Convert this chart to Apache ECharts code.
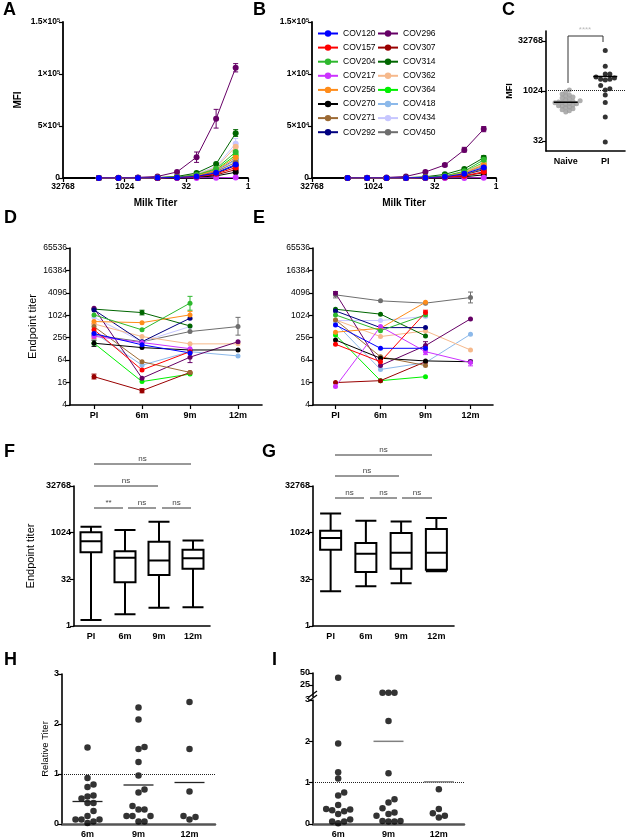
<!DOCTYPE html>
<html>
<head>
<meta charset="utf-8">
<title>Milk antibody titers</title>
<script src="https://cdn.jsdelivr.net/npm/echarts@6.0.0/dist/echarts.min.js"></script>
<style>
  html, body { margin: 0; padding: 0; background: #fff; }
  #chart { width: 629px; height: 840px; }
</style>
</head>
<body>
<div id="chart"></div>
<script>
var FONT = 'Arial, "Liberation Sans", Helvetica, sans-serif';

// ---------------- data ----------------
var patients = ['COV120', 'COV157', 'COV204', 'COV217', 'COV256', 'COV270', 'COV271', 'COV292',
                'COV296', 'COV307', 'COV314', 'COV362', 'COV364', 'COV418', 'COV434', 'COV450'];
var colors = ['#0000ff', '#ff0000', '#2eb82e', '#cc33ff', '#ff8c1a', '#000000', '#9c6a34', '#000080',
              '#660066', '#990000', '#006600', '#f6b98c', '#00f000', '#8cb9ea', '#c6c6ff', '#6e6e6e'];

// A / B : MFI against milk dilution
var milkTiters = [4374, 1458, 486, 162, 54, 18, 6, 2];
var titerTicks = [32768, 1024, 32, 1];
var mfiA = [
    [0, 0, 50, 150, 500, 1500, 5000, 13000],        // COV120
    [0, 0, 50, 100, 400, 1200, 4000, 10000],        // COV157
    [0, 0, 80, 250, 900, 3000, 9000, 25000],        // COV204
    [0, 0, 0, 20, 50, 100, 200, 500],               // COV217
    [0, 0, 80, 200, 800, 2500, 7500, 20000],        // COV256
    [0, 0, 20, 50, 200, 700, 2000, 5500],           // COV270
    [0, 0, 50, 150, 600, 2000, 6000, 15000],        // COV271
    [0, 0, 40, 120, 450, 1500, 4500, 12000],        // COV292
    [100, 300, 600, 1500, 5800, 20000, 57000, 106000], // COV296
    [0, 0, 30, 100, 300, 1000, 3000, 8000],         // COV307
    [0, 50, 150, 400, 1500, 4800, 13500, 43000],    // COV314
    [0, 30, 100, 300, 1100, 3500, 10000, 30000],    // COV362
    [0, 0, 80, 250, 800, 2800, 8000, 22000],        // COV364
    [0, 0, 60, 180, 650, 2200, 6500, 17000],        // COV418
    [0, 30, 120, 350, 1200, 4000, 11000, 33000],    // COV434
    [0, 0, 60, 200, 700, 2300, 6800, 18000]         // COV450
];
var mfiB = [
    [0, 0, 30, 100, 350, 1200, 4000, 10000],
    [0, 0, 20, 60, 200, 700, 2200, 6000],
    [0, 0, 40, 150, 600, 2000, 6500, 17500],
    [0, 0, 0, 10, 30, 60, 120, 300],
    [0, 0, 30, 120, 450, 1500, 5000, 12500],
    [0, 0, 10, 40, 120, 400, 1200, 3000],
    [0, 0, 30, 100, 350, 1100, 3500, 9000],
    [0, 0, 25, 90, 300, 1000, 3200, 8000],
    [50, 200, 500, 1500, 5800, 12500, 27000, 47000],
    [0, 0, 20, 60, 200, 600, 2000, 5000],
    [0, 20, 80, 300, 1200, 3500, 8700, 19500],
    [0, 10, 50, 180, 600, 1900, 6000, 14000],
    [0, 0, 40, 150, 550, 1800, 5800, 15000],
    [0, 0, 30, 110, 400, 1300, 4300, 11000],
    [0, 10, 40, 140, 500, 1600, 5200, 13000],
    [0, 0, 30, 120, 420, 1400, 4500, 11500]
];
// error bars: [patient, x, low, high]
var errA = [[8, 2, 102000, 110000], [8, 6, 48000, 66000], [8, 18, 15000, 25000],
            [10, 2, 40000, 46500], [14, 2, 30000, 38000], [11, 2, 27000, 33000]];
var errB = [[8, 2, 44500, 49500], [8, 6, 25000, 29500], [8, 18, 11000, 14000], [10, 2, 18000, 21500]];

// C : MFI, naive vs PI
var groupsC = ['Naive', 'PI'];
var naiveMFI = [1100, 950, 830, 780, 720, 680, 630, 590, 550, 520, 500, 480, 470,
                450, 440, 420, 410, 390, 370, 360, 340, 320, 300, 280, 260, 240];
var piMFI = [17000, 5700, 3300, 3300, 2700, 2500, 2300, 2300, 2200, 1500, 1200, 1100, 780, 460, 170, 30];
var medianC = [470, 2800];
var cutoffC = 1100;
var ticksC = [32, 1024, 32768];

// D / E : endpoint titer over time
var timepoints = ['PI', '6m', '9m', '12m'];
var ticksDE = [4, 16, 64, 256, 1024, 4096, 16384, 65536];
var titerD = [
    [330, 165, 100, null], [420, 35, 108, null], [1050, 416, 2170, null], [280, 190, 130, null],
    [695, 650, 1050, null], [182, 139, 120, 120], [510, 58, 30, null], [1430, 200, 855, null],
    [1585, 21, 77, 200], [23, 9.7, 30, null], [1500, 1210, 530, null], [600, 275, 175, 175],
    [182, 17, 27, null], [350, 47, 108, 83], [900, 200, 510, null], [300, 200, 375, 510]
];
var titerE = [
    [565, 133, 133, null], [171, 58, 1210, null], [1050, 396, 1050, null], [12.5, 510, 108, 55],
    [360, 460, 2300, null], [223, 72, 61, 58], [770, 79, 46, null], [1340, 478, 478, null],
    [4000, 46, 157, 820], [16, 18, 58, null], [1490, 1100, 286, null], [770, 275, 390, 120],
    [305, 18, 23, null], [625, 36, 55, 317], [740, 740, 950, null], [3620, 2500, 2170, 3060]
];
var errD = [[15, 3, 300, 900], [2, 2, 1400, 3300], [4, 2, 800, 1300], [10, 1, 1050, 1400],
            [1, 0, 250, 600], [5, 0, 150, 220], [9, 0, 20, 27], [9, 1, 8.5, 11], [8, 2, 55, 100]];
var errE = [[15, 3, 2200, 4300], [15, 0, 3000, 4400], [8, 2, 120, 200], [3, 2, 90, 135],
            [2, 2, 900, 1250], [1, 2, 1000, 1400], [3, 3, 45, 65], [8, 0, 3600, 4400]];

// F / G : box plots [min, Q1, median, Q3, max]
var ticksFG = [1, 32, 1024, 32768];
var boxF = [[1.56, 240, 540, 1050, 1600], [2.4, 26, 158, 258, 1250],
            [3.9, 44, 130, 525, 2300], [4, 70, 154, 286, 568]];
var boxG = [[13.2, 286, 690, 1190, 4260], [19, 55, 213, 478, 2480],
            [24, 70, 229, 1000, 2350], [58, 65, 229, 1340, 3020]];

// H / I : relative titer
var monthsHI = ['6m', '9m', '12m'];
var relH = [
    [1.53, 0.92, 0.74, 0.79, 0.57, 0.55, 0.51, 0.42, 0.42, 0.26, 0.09, 0.09, 0.09, 0.05, 0.16, 0.02],
    [2.33, 2.09, 1.54, 1.5, 1.24, 0.97, 0.69, 0.63, 0.36, 0.29, 0.29, 0.16, 0.16, 0.16, 0.05, 0.05],
    [2.44, 1.5, 0.65, 0.16, 0.09, 0.14]
];
var meanH = [0.45, 0.78, 0.83];
var relI = [
    [40, 1.95, 1.25, 1.1, 0.76, 0.69, 0.46, 0.36, 0.24, 0.31, 0.33, 0.35, 0.06, 0.06, 0.11, 0.02],
    [9.0, 8.8, 8.8, 2.49, 1.23, 0.6, 0.52, 0.38, 0.2, 0.24, 0.28, 0.06, 0.07, 0.06, 0.07],
    [0.16, 0.84, 0.26, 0.36, 0.2]
];
var meanI = [null, 2.0, 1.02];
var breakI = 3;   // values above this go to the upper segment

// ---------------- helpers ----------------
function axLine(color, width) {
    return {show: true, onZero: false, lineStyle: {color: color || '#000', width: width || 1.6}};
}
function axTick(custom, show) {
    var t = {show: show !== false, length: 4, alignWithLabel: true, lineStyle: {color: '#000', width: 1.2}};
    if (custom) t.customValues = custom;
    return t;
}
function axLabel(extra) {
    var l = {color: '#000', fontFamily: FONT, fontSize: 9, fontWeight: 'bold', margin: 3};
    for (var k in extra) l[k] = extra[k];
    return l;
}
function fmtInt(v) { return String(Math.round(v)); }
function mfiLabel(v) {
    if (v === 0) return '0';
    var p = Math.round(Math.log10(v) - 0.49);
    return (v / Math.pow(10, p)) + '×10{s|' + p + '}';
}
function nameStyle(size, weight) {
    return {color: '#000', fontFamily: FONT, fontSize: size, fontWeight: weight || 'bold'};
}
function logY(gi, min, max, ticks) {
    return {gridIndex: gi, type: 'log', logBase: 2, min: min, max: max,
        axisLine: axLine(), axisTick: axTick(ticks), splitLine: {show: false},
        axisLabel: axLabel({customValues: ticks, formatter: fmtInt})};
}
function catX(gi, cats, ticks, lineColor, lineWidth) {
    return {gridIndex: gi, type: 'category', data: cats, boundaryGap: true,
        axisLine: axLine(lineColor, lineWidth), axisTick: axTick(null, ticks), splitLine: {show: false},
        axisLabel: axLabel({margin: 6, interval: 0})};
}
// simple beeswarm: horizontal pixel offsets so dots do not overlap
function swarm(values, toPx, step) {
    var order = values.map(function (v, i) { return i; })
        .sort(function (a, b) { return values[a] - values[b]; });
    var placed = [], off = [];
    order.forEach(function (i) {
        var y = toPx(values[i]);
        for (var k = 0; k < 80; k++) {
            var dx = k === 0 ? 0 : (k % 2 ? 1 : -1) * Math.ceil(k / 2) * step;
            var free = placed.every(function (p) {
                var ax = p[0] - dx, ay = p[1] - y;
                return ax * ax + ay * ay >= step * step * 0.96;
            });
            if (free) { placed.push([dx, y]); off[i] = dx; break; }
        }
    });
    return off;
}
function swarmItems(ci, values, toPx, step) {
    var off = swarm(values, toPx, step);
    return values.map(function (v, i) { return {value: [ci, v], symbolOffset: [off[i], 0]}; });
}
function errorBars(ai, list) {
    return {
        type: 'custom', xAxisIndex: ai, yAxisIndex: ai, silent: true, z: 3,
        data: list.map(function (d) { return [d[1], d[2], d[3], d[0]]; }),
        renderItem: function (params, api) {
            var lo = api.coord([api.value(0), api.value(1)]);
            var hi = api.coord([api.value(0), api.value(2)]);
            var st = {stroke: colors[api.value(3)], lineWidth: 1};
            return {type: 'group', children: [
                {type: 'line', shape: {x1: lo[0], y1: lo[1], x2: hi[0], y2: hi[1]}, style: st},
                {type: 'line', shape: {x1: lo[0] - 2.5, y1: lo[1], x2: lo[0] + 2.5, y2: lo[1]}, style: st},
                {type: 'line', shape: {x1: hi[0] - 2.5, y1: hi[1], x2: hi[0] + 2.5, y2: hi[1]}, style: st}
            ]};
        }
    };
}
function levelLines(ai, vals, halfW, color, width) {
    var data = [];
    vals.forEach(function (v, i) { if (v != null) data.push([i, v]); });
    return {
        type: 'custom', xAxisIndex: ai, yAxisIndex: ai, silent: true, z: 6, data: data,
        renderItem: function (params, api) {
            var p = api.coord([api.value(0), api.value(1)]);
            return {type: 'line', shape: {x1: p[0] - halfW, y1: p[1], x2: p[0] + halfW, y2: p[1]},
                style: {stroke: color, lineWidth: width}};
        }
    };
}
function dotted(value) {
    return {silent: true, symbol: 'none', label: {show: false},
        lineStyle: {type: 'dotted', color: '#222', width: 1}, data: [{yAxis: value}]};
}

// ---------------- layout ----------------
var grids = [
    {left: 63, top: 22, width: 185, height: 156},    // A
    {left: 312, top: 22, width: 184, height: 156},   // B
    {left: 546, top: 31, width: 79, height: 120},    // C
    {left: 70, top: 248, width: 192, height: 157},   // D
    {left: 313, top: 248, width: 180, height: 157},  // E
    {left: 74, top: 486, width: 136, height: 140},   // F
    {left: 313, top: 486, width: 141, height: 140},  // G
    {left: 62, top: 674, width: 153, height: 150},   // H
    {left: 313, top: 700, width: 151, height: 124},  // I lower
    {left: 313, top: 673, width: 151, height: 24}    // I upper
];

var xAxes = [];
var yAxes = [];
[0, 1].forEach(function (gi) {
    xAxes.push({gridIndex: gi, type: 'log', logBase: 2, min: 0.9999, max: 32770, inverse: true,
        axisLine: axLine(null, 1.8), axisTick: axTick(titerTicks), splitLine: {show: false},
        axisLabel: axLabel({customValues: titerTicks, formatter: fmtInt, fontSize: 8.5, margin: 4}),
        name: 'Milk Titer', nameLocation: 'middle', nameGap: 20, nameTextStyle: nameStyle(10)});
    yAxes.push({gridIndex: gi, type: 'value', min: 0, max: 150000, interval: 50000,
        axisLine: axLine(null, 1.8), axisTick: axTick(), splitLine: {show: false},
        axisLabel: axLabel({fontSize: 8.5, formatter: mfiLabel,
            rich: {s: {fontSize: 5.5, fontWeight: 'bold', verticalAlign: 'top', lineHeight: 6}}}),
        name: gi === 0 ? 'MFI' : '', nameLocation: 'middle', nameGap: 40, nameTextStyle: nameStyle(10)});
});
xAxes.push(catX(2, groupsC, false));
var yC = logY(2, 16, 65536, ticksC);
yC.name = 'MFI'; yC.nameLocation = 'middle'; yC.nameGap = 31; yC.nameTextStyle = nameStyle(9);
yAxes.push(yC);
[3, 4].forEach(function (gi) {
    xAxes.push(catX(gi, timepoints, true));
    var y = logY(gi, 3.9996, 65540, ticksDE);
    y.axisLabel.fontWeight = 'normal';
    y.axisLabel.fontSize = 8.5;
    if (gi === 3) {
        y.name = 'Endpoint titer'; y.nameLocation = 'middle'; y.nameGap = 32;
        y.nameTextStyle = nameStyle(11, 'normal');
    }
    yAxes.push(y);
});
[5, 6].forEach(function (gi) {
    xAxes.push(catX(gi, timepoints, false));
    var y = logY(gi, 0.9999, 32770, ticksFG);
    if (gi === 5) {
        y.name = 'Endpoint titer'; y.nameLocation = 'middle'; y.nameGap = 38;
        y.nameTextStyle = nameStyle(11, 'normal');
    }
    yAxes.push(y);
});
xAxes.push(catX(7, monthsHI, false, '#555', 2.5));
yAxes.push({gridIndex: 7, type: 'value', min: 0, max: 3, interval: 1,
    axisLine: axLine(), axisTick: axTick(), splitLine: {show: false}, axisLabel: axLabel({}),
    name: 'Relative Titer', nameLocation: 'middle', nameGap: 12, nameTextStyle: nameStyle(9.5, 'normal')});
xAxes.push(catX(8, monthsHI, false, '#555', 2.5));
yAxes.push({gridIndex: 8, type: 'value', min: 0, max: 3, interval: 1,
    axisLine: axLine(), axisTick: axTick(), splitLine: {show: false}, axisLabel: axLabel({})});
xAxes.push({gridIndex: 9, type: 'category', data: monthsHI, show: false});
yAxes.push({gridIndex: 9, type: 'value', min: 0, max: 50,
    axisLine: axLine(), axisTick: axTick([25, 50]), splitLine: {show: false},
    axisLabel: axLabel({customValues: [25, 50]})});

// ---------------- series ----------------
var series = [];
[[0, mfiA], [1, mfiB]].forEach(function (pair) {
    for (var i = patients.length - 1; i >= 0; i--) {
        series.push({
            name: patients[i], type: 'line', xAxisIndex: pair[0], yAxisIndex: pair[0],
            data: milkTiters.map(function (t, k) { return [t, pair[1][i][k]]; }),
            symbol: 'circle', symbolSize: 6, lineStyle: {width: 1, color: colors[i]},
            itemStyle: {color: colors[i]}, z: 4
        });
    }
});
series.push(errorBars(0, errA), errorBars(1, errB));

series.push({type: 'scatter', xAxisIndex: 2, yAxisIndex: 2, symbolSize: 5,
    itemStyle: {color: '#9a9a9a'}, markLine: dotted(cutoffC),
    data: swarmItems(0, naiveMFI, function (v) { return -Math.log2(v) * 10; }, 3.6)});
series.push({type: 'scatter', xAxisIndex: 2, yAxisIndex: 2, symbolSize: 5,
    itemStyle: {color: '#000'},
    data: swarmItems(1, piMFI, function (v) { return -Math.log2(v) * 10; }, 4.6)});
series.push(levelLines(2, medianC, 12, '#000', 1.5));

[[3, titerD, errD], [4, titerE, errE]].forEach(function (set) {
    for (var i = patients.length - 1; i >= 0; i--) {
        series.push({
            name: patients[i], type: 'line', xAxisIndex: set[0], yAxisIndex: set[0],
            data: set[1][i], symbol: 'circle', symbolSize: 5, showAllSymbol: true,
            lineStyle: {width: 1, color: colors[i]}, itemStyle: {color: colors[i]}, z: 4
        });
    }
    series.push(errorBars(set[0], set[2]));
});

[[5, boxF], [6, boxG]].forEach(function (set) {
    series.push({type: 'boxplot', xAxisIndex: set[0], yAxisIndex: set[0], data: set[1],
        boxWidth: [21, 21], silent: true,
        itemStyle: {color: '#fff', borderColor: '#000', borderWidth: 2}});
});

var hItems = [];
relH.forEach(function (vals, ci) {
    hItems = hItems.concat(swarmItems(ci, vals, function (v) { return -v * 50; }, 6));
});
series.push({type: 'scatter', xAxisIndex: 7, yAxisIndex: 7, symbolSize: 6.5,
    itemStyle: {color: '#000'}, markLine: dotted(1), data: hItems, z: 4});
series.push(levelLines(7, meanH, 15, '#222', 1.3));

var iLow = [], iHigh = [];
relI.forEach(function (vals, ci) {
    var lo = vals.filter(function (v) { return v <= breakI; });
    var hi = vals.filter(function (v) { return v > breakI; });
    iLow = iLow.concat(swarmItems(ci, lo, function (v) { return -v * 41.3; }, 6));
    iHigh = iHigh.concat(swarmItems(ci, hi, function (v) { return -v * 0.48; }, 6));
});
series.push({type: 'scatter', xAxisIndex: 8, yAxisIndex: 8, symbolSize: 6.5,
    itemStyle: {color: '#000'}, markLine: dotted(1), data: iLow, z: 4});
series.push({type: 'scatter', xAxisIndex: 9, yAxisIndex: 9, symbolSize: 6.5,
    itemStyle: {color: '#000'}, data: iHigh, z: 4});
series.push(levelLines(8, meanI, 15, '#808080', 1.5));

// ---------------- annotations ----------------
var graphics = [];
[['A', 3, 1.5], ['B', 253, 1.5], ['C', 502, 1.5], ['D', 4, 209.5], ['E', 253, 209.5],
 ['F', 4, 443.5], ['G', 262, 443.5], ['H', 4, 651.5], ['I', 272, 651.5]].forEach(function (l) {
    graphics.push({type: 'text', left: l[1], top: l[2], silent: true,
        style: {text: l[0], fill: '#000', font: 'bold 18px ' + FONT}});
});
function sigBar(x1, x2, y, text) {
    graphics.push({type: 'line', silent: true, shape: {x1: x1, y1: y, x2: x2, y2: y},
        style: {stroke: '#333', lineWidth: 1}});
    graphics.push({type: 'text', silent: true, x: (x1 + x2) / 2, y: y - 1,
        style: {text: text, fill: '#444', font: '8px ' + FONT, textAlign: 'center', textVerticalAlign: 'bottom'}});
}
[[94, 123, 508, '**'], [128, 156, 508, 'ns'], [162, 191, 508, 'ns'], [94, 158, 486, 'ns'], [94, 191, 464, 'ns'],
 [335, 364, 498, 'ns'], [370, 397, 498, 'ns'], [402, 432, 498, 'ns'], [335, 399, 476, 'ns'], [335, 432, 455, 'ns']]
    .forEach(function (s) { sigBar(s[0], s[1], s[2], s[3]); });
// bracket in C
graphics.push({type: 'polyline', silent: true, shape: {points: [[568, 83], [568, 36], [603, 36], [603, 42]]},
    style: {stroke: '#333', lineWidth: 1, fill: null}});
graphics.push({type: 'text', silent: true, x: 585, y: 34,
    style: {text: '****', fill: '#bbb', font: '8px ' + FONT, textAlign: 'center', textVerticalAlign: 'bottom'}});
// axis break marks in I
graphics.push({type: 'line', silent: true, shape: {x1: 309, y1: 697, x2: 317, y2: 691}, style: {stroke: '#000', lineWidth: 1.2}});
graphics.push({type: 'line', silent: true, shape: {x1: 309, y1: 701, x2: 317, y2: 695}, style: {stroke: '#000', lineWidth: 1.2}});

var legendBase = {orient: 'vertical', top: 24, itemWidth: 20, itemHeight: 8, itemGap: 5.1,
    selectedMode: false, textStyle: {fontSize: 8.5, fontFamily: FONT, color: '#000'}};
var legendL = Object.assign({}, legendBase, {left: 312, data: patients.slice(0, 8)});
var legendR = Object.assign({}, legendBase, {left: 372, data: patients.slice(8)});

var chart = echarts.init(document.getElementById('chart'), null, {renderer: 'canvas'});
chart.setOption({
    animation: false,
    backgroundColor: '#fff',
    textStyle: {fontFamily: FONT},
    grid: grids,
    xAxis: xAxes,
    yAxis: yAxes,
    legend: [legendL, legendR],
    series: series,
    graphic: {elements: graphics}
});
</script>
</body>
</html>
